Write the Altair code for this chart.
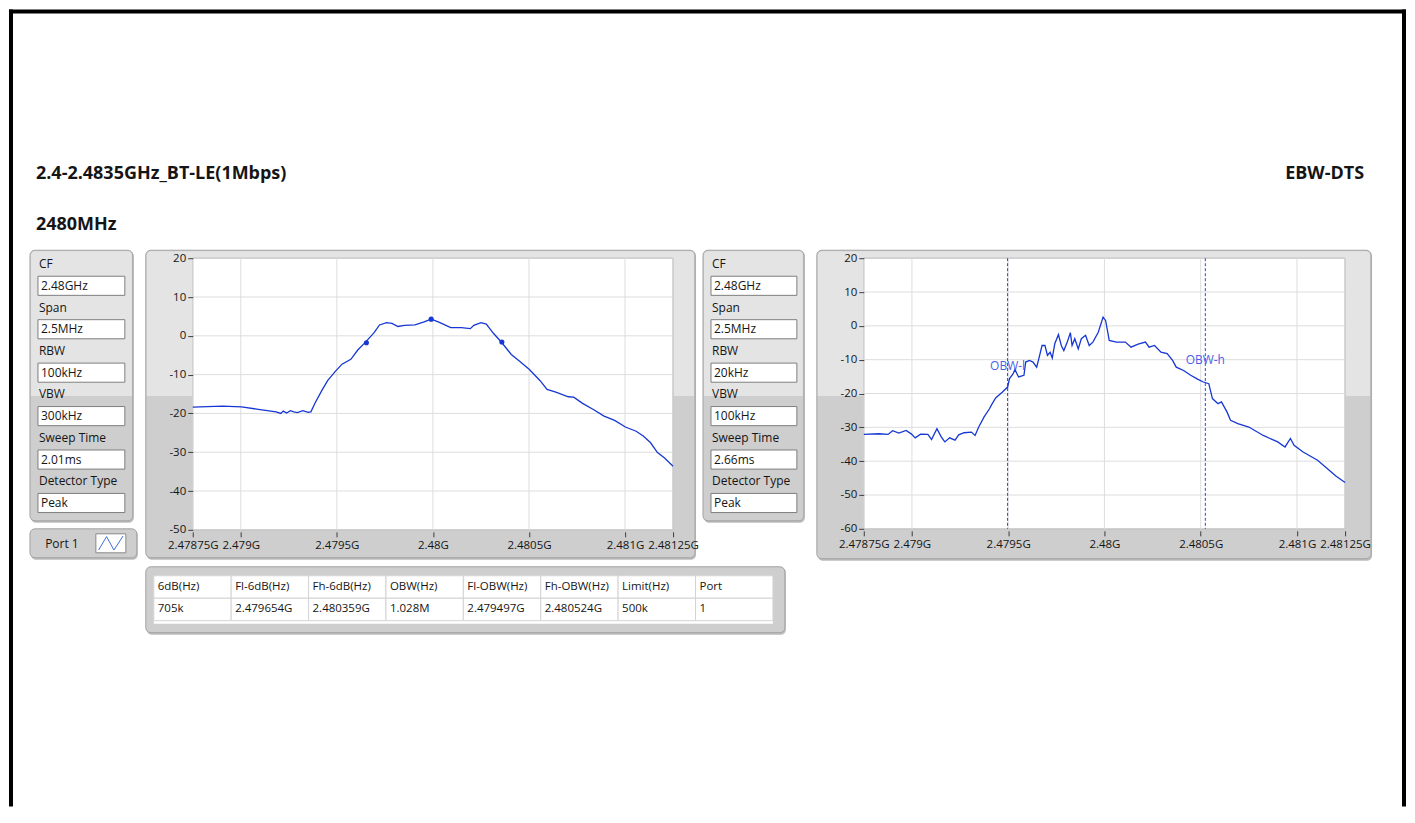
import altair as alt
import pandas as pd

# ---------------- text content ----------------
TITLE_LEFT = "2.4-2.4835GHz_BT-LE(1Mbps)"
TITLE_RIGHT = "EBW-DTS"
SUBTITLE = "2480MHz"

PARAM_LABELS = ["CF", "Span", "RBW", "VBW", "Sweep Time", "Detector Type"]
PARAM1_VALUES = ["2.48GHz", "2.5MHz", "100kHz", "300kHz", "2.01ms", "Peak"]
PARAM2_VALUES = ["2.48GHz", "2.5MHz", "20kHz", "100kHz", "2.66ms", "Peak"]

TABLE_HEADERS = ["6dB(Hz)", "Fl-6dB(Hz)", "Fh-6dB(Hz)", "OBW(Hz)",
                 "Fl-OBW(Hz)", "Fh-OBW(Hz)", "Limit(Hz)", "Port"]
TABLE_VALUES = ["705k", "2.479654G", "2.480359G", "1.028M",
                "2.479497G", "2.480524G", "500k", "1"]

PORT_LABEL = "Port 1"

# ---------------- axes ticks ----------------
X_TICKS = [2.47875, 2.479, 2.4795, 2.48, 2.4805, 2.481, 2.48125]
Y1_TICKS = [-50, -40, -30, -20, -10, 0, 10, 20]
Y2_TICKS = [-60, -50, -40, -30, -20, -10, 0, 10, 20]

# ---------------- spectrum 1 (RBW 100kHz) ----------------
S1_FREQ = [2.478750, 2.478905, 2.479004, 2.479091, 2.479184, 2.479208, 2.479221,
           2.479239, 2.479258, 2.479276, 2.479295, 2.479323, 2.479351, 2.479365,
           2.479388, 2.479425, 2.479453, 2.479490, 2.479527, 2.479573, 2.479610,
           2.479647, 2.479694, 2.479722, 2.479759, 2.479787, 2.479818, 2.479852,
           2.479907, 2.479954, 2.479991, 2.480028, 2.480093, 2.480148, 2.480195,
           2.480213, 2.480250, 2.480278, 2.480315, 2.480356, 2.480408, 2.480445,
           2.480501, 2.480557, 2.480594, 2.480640, 2.480705, 2.480733, 2.480779,
           2.480835, 2.480891, 2.480946, 2.481002, 2.481058, 2.481095, 2.481132,
           2.481169, 2.481206, 2.481250]
S1_DB = [-18.4, -18.1, -18.3, -18.95, -19.6, -20.0, -19.4,
         -19.9, -19.3, -19.6, -19.8, -19.3, -19.7, -19.6,
         -17.2, -13.8, -11.5, -9.3, -7.3, -6.05, -3.6,
         -1.75, 0.8, 2.8, 3.4, 3.2, 2.4, 2.7,
         2.8, 3.6, 4.3, 3.6, 2.1, 2.1, 1.85,
         2.7, 3.4, 3.0, 0.65, -1.6, -4.8, -6.3,
         -8.6, -11.5, -13.8, -14.5, -15.7, -15.8, -17.4,
         -19.0, -20.7, -21.8, -23.5, -24.6, -25.8, -27.5,
         -30.1, -31.5, -33.6]
M1_FREQ = [2.479654, 2.479991, 2.480359]
M1_DB = [-1.8, 4.3, -1.6]

# ---------------- spectrum 2 (RBW 20kHz) ----------------
S2_FREQ = [2.478750, 2.478829, 2.478876, 2.478900, 2.478932, 2.478970, 2.478998,
           2.479017, 2.479045, 2.479083, 2.479102, 2.479130, 2.479153, 2.479171,
           2.479196, 2.479224, 2.479243, 2.479271, 2.479309, 2.479328, 2.479347,
           2.479375, 2.479403, 2.479412, 2.479435, 2.479469, 2.479497, 2.479507,
           2.479525, 2.479535, 2.479554, 2.479582, 2.479591, 2.479610, 2.479629,
           2.479648, 2.479657, 2.479676, 2.479691, 2.479704, 2.479718, 2.479729,
           2.479742, 2.479761, 2.479776, 2.479789, 2.479808, 2.479823, 2.479832,
           2.479846, 2.479864, 2.479880, 2.479902, 2.479921, 2.479940, 2.479968,
           2.479993, 2.480006, 2.480025, 2.480062, 2.480109, 2.480138, 2.480175,
           2.480213, 2.480232, 2.480260, 2.480294, 2.480326, 2.480354, 2.480373,
           2.480411, 2.480448, 2.480486, 2.480514, 2.480542, 2.480561, 2.480590,
           2.480608, 2.480637, 2.480655, 2.480693, 2.480750, 2.480825, 2.480900,
           2.480938, 2.480966, 2.480985, 2.481032, 2.481107, 2.481154, 2.481202,
           2.481250]
S2_DB = [-32.1, -31.9, -32.1, -31.0, -31.7, -30.9, -32.0,
         -33.1, -32.0, -32.1, -33.6, -30.4, -32.9, -34.3,
         -33.1, -33.8, -32.2, -31.6, -31.4, -32.4, -29.9,
         -26.9, -24.5, -23.5, -21.3, -19.6, -18.1, -15.6,
         -14.2, -12.9, -15.1, -14.6, -10.7, -10.2, -10.7,
         -12.2, -10.2, -5.8, -5.8, -8.7, -7.8, -9.5,
         -5.3, -2.6, -5.8, -7.3, -4.6, -2.0, -5.8,
         -3.8, -6.8, -3.8, -2.8, -5.8, -4.8, -1.9,
         2.6, 1.6, -4.3, -4.8, -4.8, -6.3, -5.4,
         -4.8, -6.3, -5.8, -7.8, -8.2, -10.2, -12.2,
         -13.2, -14.6, -15.8, -16.6, -17.1, -21.5, -23.0,
         -22.5, -25.5, -27.9, -28.9, -29.9, -32.4, -34.3,
         -35.8, -33.3, -35.3, -37.3, -39.7, -42.0, -44.4,
         -46.3]
OBW_FREQ = [2.479497, 2.480524]
OBW_TEXT = ["OBW-l", "OBW-h"]
OBW_TEXT_DB = [-12.0, -10.2]

# ---------------- styles ----------------
FONT = "Open Sans"
LIGHT = "#e4e4e4"
DARK = "#cecece"
EDGE = "#a2a2a2"
SHADOW = "#bdbdbd"
GRID = "#dddddd"
BLUE = "#1737d4"
TXT = "#151515"

ONE = pd.DataFrame({"k": [0]})


def box(x, x2, y, y2, **kw):
    return alt.Chart(ONE).mark_rect(**kw).encode(
        x=alt.value(x), x2=alt.value(x2), y=alt.value(y), y2=alt.value(y2))


def label(txt, x, y, size=12, weight="normal", align="left", color=TXT):
    return alt.Chart(ONE).mark_text(
        text=txt, align=align, baseline="middle", font=FONT, fontSize=size,
        fontWeight=weight, color=color).encode(x=alt.value(x), y=alt.value(y))


def panel(x0, x1, y0, y1, split=None):
    layers = [
        box(x0 + 1, x1 + 1, y0 + 1, y1 + 2, fill=SHADOW, cornerRadius=5),
        box(x0, x1, y0, y1, fill=DARK, stroke=EDGE, strokeWidth=1, cornerRadius=5),
    ]
    if split is not None:
        layers.append(box(x0 + 1, x1 - 1, y0 + 1, split, fill=LIGHT,
                          cornerRadiusTopLeft=4, cornerRadiusTopRight=4))
    return layers


def param_layers(values, px0, px1, bx0, bx1, lx, vx):
    rows = []
    for i, (lab, val) in enumerate(zip(PARAM_LABELS, values)):
        rows.append({"row": 2 * i, "kind": "label", "text": lab})
        rows.append({"row": 2 * i + 1, "kind": "value", "text": val})
    df = pd.DataFrame(rows)
    yenc = alt.Y("row:O", axis=None,
                 scale=alt.Scale(domain=[r["row"] for r in rows], range=[-5, 256],
                                 paddingInner=0.12, paddingOuter=0.06))
    boxes = alt.Chart(df).transform_filter("datum.kind == 'value'").mark_rect(
        fill="white", stroke="#7e7e7e", strokeWidth=1).encode(
        x=alt.value(bx0), x2=alt.value(bx1), y=yenc)
    labs = alt.Chart(df).transform_filter("datum.kind == 'label'").mark_text(
        align="left", baseline="middle", font=FONT, fontSize=12, color=TXT).encode(
        x=alt.value(lx), y=yenc, text="text:N")
    vals = alt.Chart(df).transform_filter("datum.kind == 'value'").mark_text(
        align="left", baseline="middle", font=FONT, fontSize=12, color=TXT).encode(
        x=alt.value(vx), y=yenc, text="text:N")
    return panel(px0, px1, -8, 263, 138) + [boxes, labs, vals]


# ---------------- column 1: params, port legend, headers, border ----------------
col1_layers = []
col1_layers += [box(-22, -18, -249, 549, fill="black"),
                box(-22, 1377, -249, -245, fill="black"),
                box(1373, 1377, -249, 549, fill="black")]
col1_layers += [label(TITLE_LEFT, 5, -84, size=18, weight="bold"),
                label(SUBTITLE, 5, -33, size=18, weight="bold"),
                label(TITLE_RIGHT, 1335, -84, size=18, weight="bold", align="right")]
col1_layers += param_layers(PARAM1_VALUES, -1, 102, 7, 94, 8, 10)
col1_layers += panel(-1, 106, 271, 300)
col1_layers += [label(PORT_LABEL, 31, 286, size=12, align="center"),
                box(65, 95, 276, 295, fill="white", stroke="#8a8a8a", strokeWidth=1),
                alt.Chart(ONE).mark_point(
                    shape="M -1 0.55 L -0.35 -0.55 L 0.25 0.55 L 1 -0.6",
                    filled=False, color="#3a6fd8", strokeWidth=1, size=600, opacity=1
                ).encode(x=alt.value(80), y=alt.value(285.5))]
col1 = alt.layer(*col1_layers).properties(width=132, height=272)

# ---------------- plot helpers ----------------
SX = alt.Scale(domain=[2.47875, 2.48125], nice=False, zero=False)
AX = alt.Axis(values=X_TICKS, labelExpr="datum.value + 'G'", grid=False, domain=False,
              tickSize=5, tickColor="#3c3c3c", labelColor=TXT, labelFont=FONT,
              labelFontSize=11.5, labelOverlap=False, labelFlush=False, labelPadding=3,
              offset=2, title=None, zindex=1)


def yaxis(ticks):
    return alt.Axis(values=ticks, labelExpr="datum.value + ''", grid=False, domain=False,
                    tickSize=5, tickColor="#3c3c3c", labelColor=TXT, labelFont=FONT,
                    labelFontSize=11.5, labelOverlap=False, labelFlush=False,
                    labelPadding=2, title=None, zindex=1)


def plot_core(freqs, dbs, ydom, yticks, w, h, frame):
    SY = alt.Scale(domain=ydom, nice=False, zero=False)
    AY = yaxis(yticks)
    X = alt.X("f:Q", scale=SX, axis=AX)
    Y = alt.Y("db:Q", scale=SY, axis=AY)
    layers = panel(*frame)
    layers.append(box(0, w, 0, h, fill="white", stroke="#9c9c9c", strokeWidth=1))
    layers.append(alt.Chart(pd.DataFrame({"f": X_TICKS})).mark_rule(
        color=GRID, strokeWidth=1).encode(x=X))
    layers.append(alt.Chart(pd.DataFrame({"db": yticks})).mark_rule(
        color=GRID, strokeWidth=1).encode(y=Y))
    line = alt.Chart(pd.DataFrame({"f": freqs, "db": dbs})).mark_line(
        color=BLUE, strokeWidth=1.3).encode(x=X, y=Y)
    return layers, line, X, Y


# ---------------- plot 1 + table ----------------
p1_layers, p1_line, X1, Y1 = plot_core(S1_FREQ, S1_DB, [-50, 20], Y1_TICKS, 481, 272,
                                       (-47, 503, -8, 300, 138))
p1_marks = alt.Chart(pd.DataFrame({"f": M1_FREQ, "db": M1_DB})).mark_circle(
    color=BLUE, size=26, opacity=1).encode(x=X1, y=Y1)
p1_inner = alt.layer(*p1_layers, p1_line, p1_marks)

trows = []
for i, (hd, vl) in enumerate(zip(TABLE_HEADERS, TABLE_VALUES)):
    trows.append({"col": i, "row": "h", "text": hd})
    trows.append({"col": i, "row": "v", "text": vl})
tdf = pd.DataFrame(trows)
TSX = alt.Scale(domain=list(range(len(TABLE_HEADERS))), range=[-39, 581],
                paddingInner=0, paddingOuter=0)
TSY = alt.Scale(domain=["h", "v"], range=[318, 363], paddingInner=0, paddingOuter=0)
t_layers = panel(-47, 593, 309, 375)
t_layers.append(box(-39, 581, 318, 366, fill="white"))
t_layers.append(alt.Chart(tdf).mark_rect(fill="white", stroke="#d3d3d3", strokeWidth=1).encode(
    x=alt.X("col:O", scale=TSX, axis=None), y=alt.Y("row:N", scale=TSY, axis=None)))
t_layers.append(alt.Chart(tdf).mark_text(
    align="left", baseline="middle", dx=4, font=FONT, fontSize=11.5, color=TXT).encode(
    x=alt.X("col:O", scale=TSX, axis=None, bandPosition=0),
    y=alt.Y("row:N", scale=TSY, axis=None), text="text:N"))
t_inner = alt.layer(*t_layers)

plot1 = alt.layer(p1_inner, t_inner).resolve_scale(
    x="independent", y="independent").properties(width=481, height=272)

# ---------------- column 3: params 2 ----------------
col3 = alt.layer(*param_layers(PARAM2_VALUES, 0, 101, 8, 94, 9, 11)).properties(
    width=131, height=272)

# ---------------- plot 2 ----------------
p2_layers, p2_line, X2, Y2 = plot_core(S2_FREQ, S2_DB, [-60, 20], Y2_TICKS, 482, 271,
                                       (-47, 508, -8, 301, 138))
obw_df = pd.DataFrame({"f": OBW_FREQ, "db": OBW_TEXT_DB, "text": OBW_TEXT})
obw_rules = alt.Chart(obw_df).mark_rule(
    color="#2448d8", strokeDash=[3, 2], strokeWidth=1).encode(x=X2)
obw_text = alt.Chart(obw_df).mark_text(
    font=FONT, fontSize=12, color="#4a5fe6", baseline="middle", align="center").encode(
    x=X2, y=Y2, text="text:N")
plot2 = alt.layer(*p2_layers, obw_rules, p2_line, obw_text).properties(width=482, height=271)

chart = alt.hconcat(col1, plot1, col3, plot2, spacing=30, bounds="flush").properties(
    padding=0, background="white").configure_view(stroke="transparent")

chart.save("out.html", embed_options={"renderer": "svg", "actions": False})
